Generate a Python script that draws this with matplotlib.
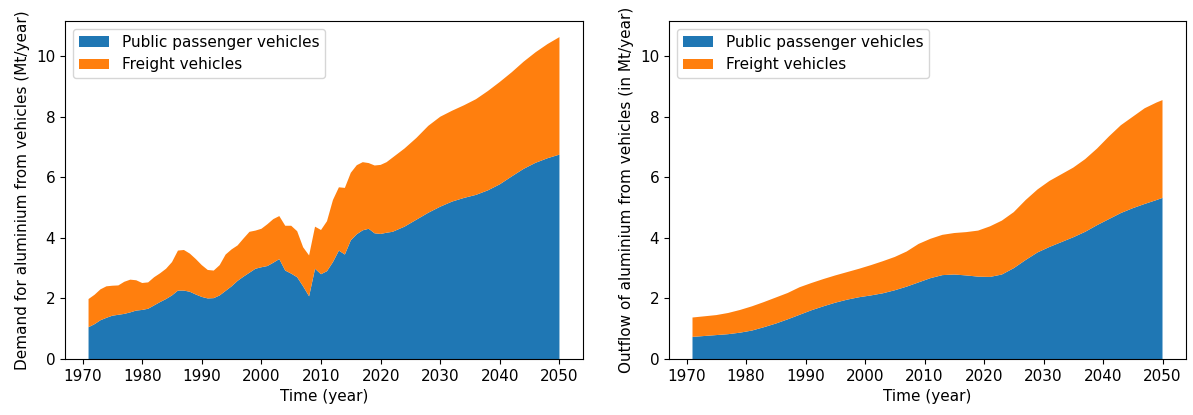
import numpy as np
import matplotlib
matplotlib.use("Agg")
import matplotlib.pyplot as plt

plt.rcParams["font.size"] = 11

# demand (left chart)
demand_years = list(range(1971, 2023)) + list(range(2024, 2051, 2))
demand_passenger = [1.05, 1.15, 1.28, 1.36, 1.43, 1.46, 1.49, 1.54, 1.60, 1.62,
                    1.66, 1.77, 1.88, 1.98, 2.10, 2.26, 2.26, 2.22, 2.13, 2.05,
                    2.00, 2.01, 2.10, 2.25, 2.40, 2.58, 2.72, 2.85, 2.98, 3.03,
                    3.07, 3.18, 3.30, 2.92, 2.82, 2.70, 2.40, 2.07, 2.98, 2.80,
                    2.90, 3.20, 3.58, 3.45, 3.92, 4.12, 4.25, 4.30, 4.15, 4.13,
                    4.17, 4.20,
                    4.37, 4.60, 4.83, 5.03, 5.20, 5.32, 5.42, 5.57, 5.77, 6.03,
                    6.28, 6.48, 6.63, 6.75]
demand_total = [1.98, 2.12, 2.30, 2.40, 2.42, 2.43, 2.55, 2.62, 2.60, 2.51,
                2.53, 2.70, 2.83, 2.98, 3.20, 3.58, 3.60, 3.48, 3.30, 3.10,
                2.94, 2.92, 3.10, 3.45, 3.62, 3.75, 3.98, 4.20, 4.24, 4.30,
                4.45, 4.62, 4.72, 4.40, 4.40, 4.22, 3.69, 3.42, 4.37, 4.26,
                4.55, 5.25, 5.67, 5.65, 6.15, 6.40, 6.50, 6.47, 6.39, 6.41,
                6.50, 6.65,
                6.95, 7.30, 7.70, 8.00, 8.20, 8.38, 8.58, 8.85, 9.15, 9.47,
                9.82, 10.13, 10.40, 10.63]

# outflow (right chart)
outflow_years = list(range(1971, 2050, 2)) + [2050]
outflow_passenger = [0.73, 0.76, 0.79, 0.82, 0.87, 0.94, 1.05, 1.17, 1.31, 1.46,
                     1.61, 1.74, 1.86, 1.96, 2.04, 2.10, 2.17, 2.27, 2.39, 2.53,
                     2.67, 2.77, 2.79, 2.76, 2.72, 2.71, 2.79, 3.00, 3.27, 3.52,
                     3.70, 3.86, 4.02, 4.20, 4.42, 4.62, 4.82, 4.98, 5.12, 5.25,
                     5.32]
outflow_total = [1.37, 1.41, 1.45, 1.52, 1.62, 1.74, 1.88, 2.03, 2.18, 2.37,
                 2.51, 2.64, 2.76, 2.87, 2.98, 3.10, 3.23, 3.37, 3.55, 3.80,
                 3.97, 4.10, 4.16, 4.19, 4.24, 4.38, 4.57, 4.85, 5.25, 5.60,
                 5.88, 6.10, 6.32, 6.60, 6.95, 7.35, 7.72, 8.00, 8.28, 8.47,
                 8.55]

labels = ["Public passenger vehicles", "Freight vehicles"]

fig = plt.figure(figsize=(11.93, 4.15), dpi=100)
ax1 = fig.add_axes([65 / 1193, 1 - 359 / 415, 518 / 1193, 338 / 415])
ax2 = fig.add_axes([669 / 1193, 1 - 359 / 415, 517 / 1193, 338 / 415])

p = np.array(demand_passenger)
f = np.array(demand_total) - p
ax1.stackplot(demand_years, p, f, labels=labels)
ax1.set_xlabel("Time (year)")
ax1.set_ylabel("Demand for aluminium from vehicles (Mt/year)")
ax1.legend(loc="upper left")

p = np.array(outflow_passenger)
f = np.array(outflow_total) - p
ax2.stackplot(outflow_years, p, f, labels=labels)
ax2.set_xlabel("Time (year)")
ax2.set_ylabel("Outflow of aluminium from vehicles (in Mt/year)")
ax2.legend(loc="upper left")
ax2.set_ylim(ax1.get_ylim())

fig.savefig("out.png", dpi=100)
